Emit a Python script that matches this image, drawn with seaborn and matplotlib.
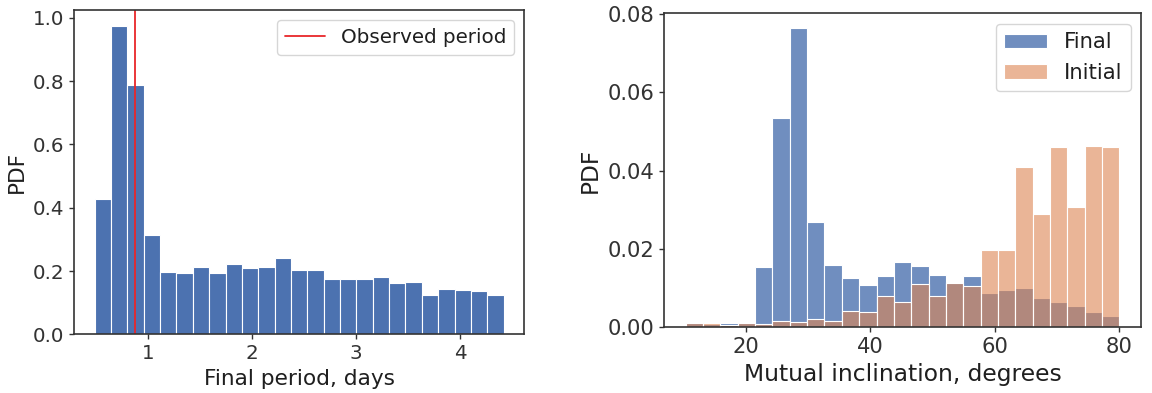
import numpy as np
import pandas as pd
import matplotlib
matplotlib.use("Agg")
import matplotlib.pyplot as plt
import seaborn as sns

# Final orbital period histogram (density per bin)
period_edges_range = (0.49, 4.42)
period_density = [0.427, 0.975, 0.787, 0.314, 0.196, 0.195, 0.213, 0.195, 0.222,
                  0.210, 0.212, 0.240, 0.204, 0.205, 0.174, 0.174, 0.175, 0.181,
                  0.161, 0.167, 0.123, 0.142, 0.140, 0.136, 0.123]
observed_period = 0.877

# Mutual inclination histograms (density per bin)
incl_edges_range = (10.3, 80.0)
incl_final = [0.0011, 0.0008, 0.0011, 0.0012, 0.0154, 0.0534, 0.0763, 0.0268,
              0.0158, 0.0127, 0.0108, 0.0130, 0.0166, 0.0157, 0.0134, 0.0116,
              0.0132, 0.0088, 0.0095, 0.0100, 0.0074, 0.0064, 0.0054, 0.0039,
              0.0030]
incl_initial = [0.0011, 0.0011, 0.0007, 0.0012, 0.0008, 0.0015, 0.0013, 0.0022,
                0.0017, 0.0042, 0.0039, 0.0079, 0.0064, 0.0110, 0.0081, 0.0112,
                0.0105, 0.0197, 0.0197, 0.0408, 0.0289, 0.0460, 0.0308, 0.0464,
                0.0461]

sns.set_theme(style="ticks", rc={
    "axes.edgecolor": "0.2",
    "axes.linewidth": 1.2,
    "xtick.major.size": 3.5,
    "ytick.major.size": 3.5,
    "xtick.major.width": 1.0,
    "ytick.major.width": 1.0,
    "text.color": "0.12",
    "axes.labelcolor": "0.12",
    "xtick.color": "0.2",
    "ytick.color": "0.2",
})

blue, orange = sns.color_palette("deep")[:2]

fig = plt.figure(figsize=(11.52, 3.93), dpi=100)
ax1 = fig.add_axes([0.0644, 0.149, 0.3905, 0.825])
ax2 = fig.add_axes([0.5764, 0.167, 0.4141, 0.799])

# Left panel: final period
p_edges = np.linspace(*period_edges_range, len(period_density) + 1)
period_df = pd.DataFrame({
    "period": 0.5 * (p_edges[:-1] + p_edges[1:]),
    "density": period_density,
})
sns.histplot(data=period_df, x="period", weights="density", bins=list(p_edges),
             ax=ax1, color=blue, alpha=1.0, edgecolor="white", linewidth=0.8)
ax1.axvline(observed_period, color="#e8262a", lw=1.3, label="Observed period")
ax1.set_xlabel("Final period, days", fontsize=15.6)
ax1.set_ylabel("PDF", fontsize=15.6)
ax1.tick_params(labelsize=14.3)
ax1.set_xticks([1, 2, 3, 4])
ax1.set_yticks([0.0, 0.2, 0.4, 0.6, 0.8, 1.0])
ax1.legend(loc="upper right", fontsize=14.3, handlelength=2.0)

# Right panel: mutual inclination, final vs initial
i_edges = np.linspace(*incl_edges_range, len(incl_final) + 1)
incl_df = pd.DataFrame({
    "inclination": 0.5 * (i_edges[:-1] + i_edges[1:]),
    "final": incl_final,
    "initial": incl_initial,
})
sns.histplot(data=incl_df, x="inclination", weights="final", bins=list(i_edges),
             ax=ax2, color=blue, alpha=0.8, edgecolor="white", linewidth=0.8,
             label="Final")
sns.histplot(data=incl_df, x="inclination", weights="initial", bins=list(i_edges),
             ax=ax2, color=orange, alpha=0.6, edgecolor="white", linewidth=0.8,
             label="Initial")
ax2.set_xlabel("Mutual inclination, degrees", fontsize=16.8)
ax2.set_ylabel("PDF", fontsize=16.8)
ax2.tick_params(labelsize=15.2)
ax2.set_xticks([20, 40, 60, 80])
ax2.set_yticks([0.0, 0.02, 0.04, 0.06, 0.08])
ax2.set_yticklabels(["0.00", "0.02", "0.04", "0.06", "0.08"])
ax2.legend(loc="upper right", fontsize=15.2, handlelength=2.0)

fig.savefig("out.png", dpi=100)
